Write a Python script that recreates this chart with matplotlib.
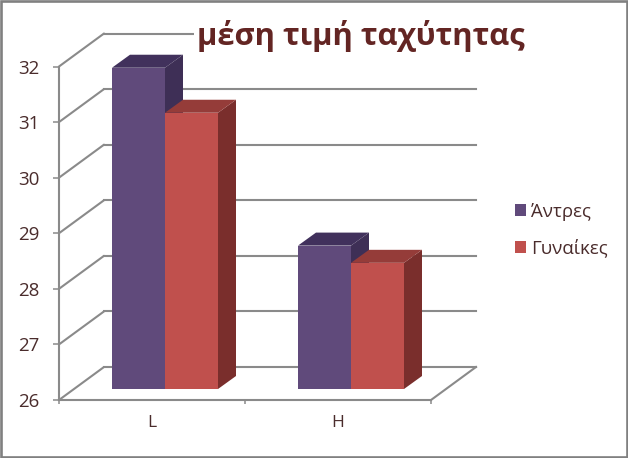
import matplotlib
matplotlib.use("Agg")
import matplotlib.pyplot as plt
from matplotlib.patches import Polygon, Rectangle

categories = ["L", "H"]
men = [31.78, 28.58]
women = [30.97, 28.27]
series_names = ["Άντρες", "Γυναίκες"]
title = "μέση τιμή ταχύτητας"
yticks = [26, 27, 28, 29, 30, 31, 32]

W, H = 628, 458
X0, X1, Y0, Y1 = 59, 431, 400, 66.5
UX = (X1 - X0) / 2
UY = (Y0 - Y1) / 6

plt.rcParams["font.family"] = ["Open Sans", "Noto Sans", "DejaVu Sans"]
TXT = "#4a2c2c"
GRID = "#8a8a8a"

fig = plt.figure(figsize=(W / 100, H / 100), dpi=100, facecolor="white")
ax = fig.add_axes([X0 / W, 1 - Y0 / H, (X1 - X0) / W, (Y0 - Y1) / H])
ax.set_xlim(0, 2)
ax.set_ylim(26, 32)
ax.patch.set_visible(False)

# oblique depth, in data units per unit of depth
DX, DY = 45 / UX, 33 / UY

for s in ("top", "right"):
    ax.spines[s].set_visible(False)
for s in ("left", "bottom"):
    ax.spines[s].set_color(GRID)
    ax.spines[s].set_linewidth(1.5)

ax.set_yticks(yticks)
ax.set_xticks([0, 1, 2])
ax.set_xticklabels([])
ax.set_xticks([0.5, 1.5], labels=categories, minor=True)
ax.tick_params(axis="y", length=6.5 * 0.72, width=1.1, color=GRID, labelcolor=TXT,
               labelsize=13.5, pad=9.5)
ax.tick_params(axis="x", which="major", length=4 * 0.72, width=1.1, color=GRID)
ax.tick_params(axis="x", which="minor", length=0, labelcolor=TXT, labelsize=12.5, pad=11)

# walls
for v in yticks:
    ax.plot([0, DX], [v, v + DY], color=GRID, lw=1.5, clip_on=False, zorder=1,
            solid_capstyle="round")
    ax.plot([DX, 2 + DX], [v + DY, v + DY], color=GRID, lw=1.5, clip_on=False, zorder=1)
ax.plot([2, 2 + DX], [26, 26 + DY], color=GRID, lw=1.5, clip_on=False, zorder=1)

# bars
t0 = 15 / 45
bw = 53 / UX
bdx, bdy = 18 / UX, 13 / UY
fy = t0 * DY
start = [(112 - X0) / UX, (298 - X0) / UX]
styles = [
    (men, 0, "#604A7B", "#41315C", "#3E2F56", series_names[0]),
    (women, 1, "#C0504D", "#953C39", "#7A2E2C", series_names[1]),
]
handles = []
for vals, k, front, top, side, name in styles:
    for i, v in enumerate(vals):
        x = start[i] + k * bw
        yb, yt = 26 + fy, v + fy
        ax.add_patch(Polygon([(x + bw, yb), (x + bw + bdx, yb + bdy), (x + bw + bdx, yt + bdy), (x + bw, yt)],
                             closed=True, fc=side, ec="none", clip_on=False, zorder=3 + k))
        ax.add_patch(Polygon([(x, yt), (x + bdx, yt + bdy), (x + bw + bdx, yt + bdy), (x + bw, yt)],
                             closed=True, fc=top, ec="none", clip_on=False, zorder=3 + k))
    b = ax.bar([start[i] + k * bw for i in range(2)], [v - 26 for v in vals], bw, bottom=26 + fy,
               align="edge", color=front, label=name, clip_on=False, zorder=3.5 + k)
    handles.append(b)

leg = fig.legend(handles=handles, loc="upper left", bbox_to_anchor=(509 / W, 1 - 197 / H),
                 frameon=False, fontsize=13.4, labelcolor=TXT, handlelength=0.62, handleheight=0.62,
                 handletextpad=0.25, labelspacing=0.98, borderpad=0.3, borderaxespad=0)

fig.text(361 / W, 1 - 36 / H, title, ha="center", va="center", fontsize=22.2, fontweight="bold",
         color="#632523", zorder=10, bbox=dict(fc="white", ec="none", pad=2))

fig.add_artist(Rectangle((1 / W, 1 / H), (W - 2) / W, (H - 2) / H, transform=fig.transFigure,
                         fc="none", ec="#808080", lw=1.9, zorder=20))
fig.savefig("out.png", dpi=100)
